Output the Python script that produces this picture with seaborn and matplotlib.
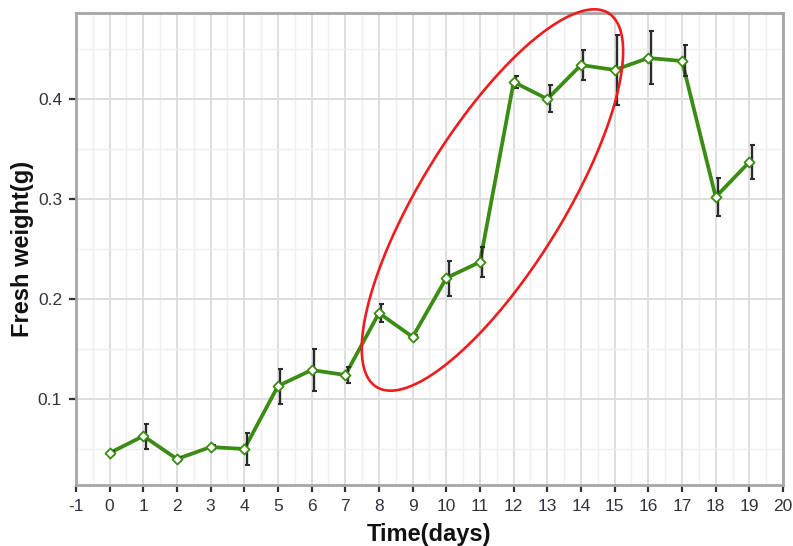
import numpy as np
import pandas as pd
import matplotlib
matplotlib.use("Agg")
import matplotlib.pyplot as plt
import matplotlib.transforms as mtransforms
from matplotlib.ticker import MultipleLocator, FixedLocator
import seaborn as sns

days = [0, 1, 2, 3, 4, 5, 6, 7, 8, 9, 10, 11, 12, 13, 14, 15, 16, 17, 18, 19]
weight = [0.046, 0.063, 0.040, 0.052, 0.050, 0.113, 0.129, 0.124, 0.186, 0.162,
          0.221, 0.237, 0.417, 0.400, 0.434, 0.429, 0.441, 0.438, 0.302, 0.337]
error = [0.002, 0.0125, 0.002, 0.002, 0.016, 0.0175, 0.021, 0.008, 0.009, 0.002,
         0.0175, 0.015, 0.006, 0.0135, 0.015, 0.035, 0.0265, 0.0155, 0.019, 0.017]
x_ticks = list(range(-1, 21))
y_ticks = [0.1, 0.2, 0.3, 0.4]

df = pd.DataFrame({"Time(days)": days, "Fresh weight(g)": weight, "err": error})

sns.set_style("white")
plt.rcParams["font.family"] = ["Liberation Sans", "DejaVu Sans"]

fig = plt.figure(figsize=(7.93, 5.46), dpi=100)
ax = fig.add_axes([0.0958, 0.1117, 0.8916, 0.8645])

green = "#3a8c12"
sns.lineplot(data=df, x="Time(days)", y="Fresh weight(g)", ax=ax, color=green,
             linewidth=2.7, zorder=3)
off = mtransforms.offset_copy(ax.transData, fig=fig, x=2.5, y=0, units="dots")
ax.errorbar(df["Time(days)"], df["Fresh weight(g)"], yerr=df["err"], fmt="none",
            ecolor="#2b2b2b", elinewidth=1.7, capsize=1.8, capthick=1.5,
            transform=off, zorder=4)
sns.scatterplot(data=df, x="Time(days)", y="Fresh weight(g)", ax=ax, marker="D",
                s=26, facecolor="white", edgecolor=green, linewidth=1.3, zorder=5)

ax.set_xlim(-1, 20)
ax.set_ylim(0.014, 0.486)
ax.xaxis.set_major_locator(FixedLocator(x_ticks))
ax.yaxis.set_major_locator(FixedLocator(y_ticks))
ax.xaxis.set_minor_locator(MultipleLocator(0.5))
ax.yaxis.set_minor_locator(MultipleLocator(0.05))
ax.set_xticklabels([str(t) for t in x_ticks])
ax.set_yticklabels([f"{t:.1f}" for t in y_ticks])

ax.grid(which="major", color="#dedede", linewidth=1.4, zorder=0)
ax.grid(which="minor", color="#efefef", linewidth=1.0, zorder=0)
ax.set_axisbelow(True)

for side, sp in ax.spines.items():
    sp.set_visible(True)
    sp.set_color("#a6a6a6")
    sp.set_linewidth(2.0)

ax.tick_params(axis="both", which="major", direction="out", length=5, width=1.6,
               color="#333333", labelcolor="#33333d", labelsize=12.5,
               bottom=True, left=True, pad=5)
ax.tick_params(which="minor", length=0)

ax.set_xlabel("Time(days)", fontsize=17, fontweight="bold", color="#111111", labelpad=6.5)
ax.set_ylabel("Fresh weight(g)", fontsize=17, fontweight="bold", color="#111111", labelpad=3)

# red highlight ellipse, defined in display pixels around a data-space center
fig.canvas.draw()
cx, cy = ax.transData.transform((11.37, 0.299))
a, b, th = 220.0, 71.0, np.deg2rad(58.2)
t = np.linspace(0, 2 * np.pi, 400)
px = cx + a * np.cos(t) * np.cos(th) - b * np.sin(t) * np.sin(th)
py = cy + a * np.cos(t) * np.sin(th) + b * np.sin(t) * np.cos(th)
pts = ax.transData.inverted().transform(np.column_stack([px, py]))
ax.plot(pts[:, 0], pts[:, 1], color="#ee1c1c", linewidth=1.9, zorder=6, clip_on=False)

fig.savefig("out.png", dpi=100)
